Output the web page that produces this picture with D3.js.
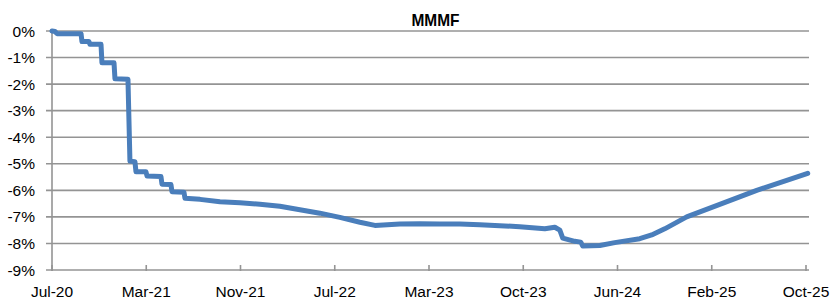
<!DOCTYPE html>
<html>
<head>
<meta charset="utf-8">
<script src="https://cdn.jsdelivr.net/npm/d3@7/dist/d3.min.js"></script>
<style>
  html, body { margin: 0; padding: 0; background: #fff; }
  svg { display: block; }
  text { font-family: "Liberation Sans", Arial, sans-serif; fill: #000; }
</style>
</head>
<body>
<svg id="chart" width="830" height="301"></svg>
<script>
// ---- data ----
const title = "MMMF";
const xTickLabels = ["Jul-20", "Mar-21", "Nov-21", "Jul-22", "Mar-23", "Oct-23", "Jun-24", "Feb-25", "Oct-25"];
const yTicks = [0, -1, -2, -3, -4, -5, -6, -7, -8, -9];
// x position in axis-label units (0 = Jul-20, 8 = Oct-25)
const xPos = [0, 0.032, 0.053, 0.308, 0.318, 0.392, 0.403, 0.520, 0.530, 0.658, 0.668, 0.806, 0.827,
  0.880, 0.891, 0.997, 1.008, 1.156, 1.167, 1.262, 1.273, 1.400, 1.411, 1.570, 1.782, 1.994, 2.206,
  2.418, 2.630, 2.842, 3.054, 3.267, 3.426, 3.691, 3.903, 4.115, 4.327, 4.539, 4.751, 4.963, 5.229,
  5.335, 5.388, 5.419, 5.547, 5.610, 5.632, 5.812, 5.971, 6.236, 6.363, 6.501, 6.734, 7.106, 7.477, 8.018];
// MMMF cumulative change, %
const mmmf = [0, -0.02, -0.1, -0.1, -0.4, -0.4, -0.5, -0.5, -1.2, -1.2, -1.8, -1.82, -4.9,
  -4.92, -5.3, -5.3, -5.46, -5.48, -5.77, -5.78, -6.05, -6.07, -6.3, -6.34, -6.43, -6.47, -6.52,
  -6.6, -6.73, -6.86, -7.02, -7.2, -7.32, -7.27, -7.26, -7.27, -7.27, -7.3, -7.33, -7.37, -7.45,
  -7.39, -7.5, -7.8, -7.92, -7.95, -8.1, -8.08, -7.97, -7.82, -7.68, -7.45, -7.0, -6.5, -6.0, -5.36];

// ---- chart ----
const svg = d3.select("#chart");
const m = { left: 52, right: 806, top: 31, bottom: 270 };

const x = d3.scaleLinear().domain([0, xTickLabels.length - 1]).range([m.left, m.right]);
const y = d3.scaleLinear().domain([0, -9]).range([m.top, m.bottom]);

const gridColor = "#949494";

// gridlines
svg.append("g").selectAll("line").data(yTicks).join("line")
  .attr("x1", m.left - 6).attr("x2", 809)
  .attr("y1", d => y(d)).attr("y2", d => y(d))
  .attr("stroke", gridColor).attr("stroke-width", 1.6);

// y axis line
svg.append("line")
  .attr("x1", m.left).attr("x2", m.left)
  .attr("y1", y(0)).attr("y2", y(-9) + 1)
  .attr("stroke", gridColor).attr("stroke-width", 1.6);

// y labels
svg.append("g").selectAll("text").data(yTicks).join("text")
  .attr("x", 35).attr("y", d => y(d))
  .attr("dy", "0.36em")
  .attr("text-anchor", "end")
  .style("font-size", "15.5px")
  .text(d => d + "%");

// x ticks
const xt = d3.range(xTickLabels.length);
svg.append("g").selectAll("line").data(xt).join("line")
  .attr("x1", d => x(d)).attr("x2", d => x(d))
  .attr("y1", y(-9) - 5).attr("y2", y(-9) + 1)
  .attr("stroke", gridColor).attr("stroke-width", 1.6);

// x labels
svg.append("g").selectAll("text").data(xt).join("text")
  .attr("x", d => x(d)).attr("y", 297)
  .attr("text-anchor", "middle")
  .style("font-size", "15.5px")
  .text(d => xTickLabels[d]);

// line
const pts = xPos.map((p, i) => [p, mmmf[i]]);
svg.append("path")
  .datum(pts)
  .attr("fill", "none")
  .attr("stroke", "#4a7ebb")
  .attr("stroke-width", 5)
  .attr("stroke-linejoin", "round")
  .attr("stroke-linecap", "round")
  .attr("d", d3.line().x(d => x(d[0])).y(d => y(d[1])));

// title
svg.append("text")
  .attr("x", 435.5).attr("y", 26)
  .attr("text-anchor", "middle")
  .style("font-size", "17px")
  .style("font-weight", "bold")
  .attr("textLength", 48)
  .attr("lengthAdjust", "spacingAndGlyphs")
  .text(title);
</script>
</body>
</html>
